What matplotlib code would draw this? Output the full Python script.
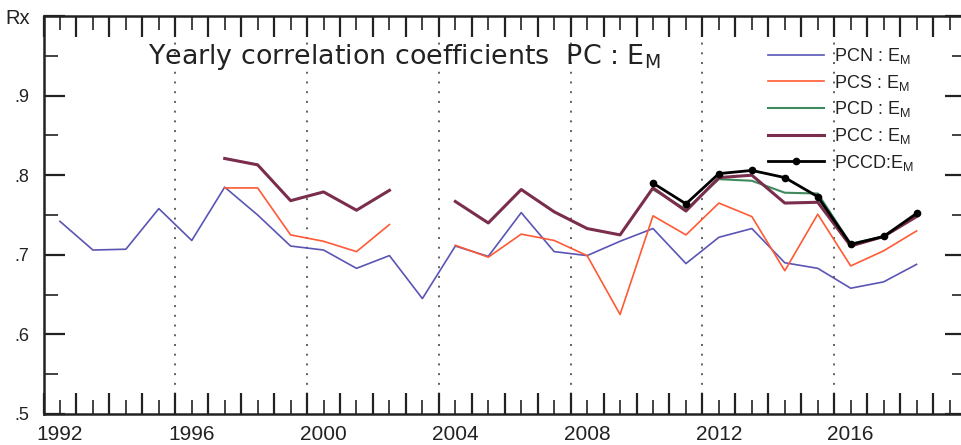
import numpy as np
import matplotlib
matplotlib.use('Agg')
import matplotlib.pyplot as plt
from matplotlib.ticker import MultipleLocator, FixedLocator, FuncFormatter

plt.rcParams['font.family'] = ['Liberation Sans', 'DejaVu Sans']
plt.rcParams['mathtext.fontset'] = 'custom'
plt.rcParams['mathtext.rm'] = 'Liberation Sans'

# ---- data ----
years_pcn = list(range(1992, 2019))
pcn = [0.742, 0.706, 0.707, 0.758, 0.718, 0.785, 0.750, 0.711, 0.706, 0.683,
       0.699, 0.645, 0.711, 0.698, 0.753, 0.704, 0.699, 0.717, 0.733, 0.689,
       0.722, 0.733, 0.690, 0.683, 0.658, 0.666, 0.688]

years_pcs = list(range(1997, 2019))
pcs = [0.784, 0.784, 0.725, 0.717, 0.704, 0.738, np.nan, 0.712, 0.697, 0.726,
       0.718, 0.699, 0.625, 0.749, 0.725, 0.765, 0.748, 0.680, 0.751, 0.686,
       0.705, 0.730]

years_pcc = list(range(1997, 2019))
pcc = [0.821, 0.813, 0.768, 0.779, 0.756, 0.781, np.nan, 0.767, 0.740, 0.782,
       0.754, 0.733, 0.725, 0.784, 0.755, 0.797, 0.800, 0.765, 0.766, 0.711,
       0.723, 0.748]

years_pcd = list(range(2010, 2019))
pcd = [0.782, 0.757, 0.795, 0.793, 0.778, 0.777, 0.714, 0.723, 0.749]

years_pccd = list(range(2010, 2019))
pccd = [0.790, 0.764, 0.802, 0.806, 0.797, 0.773, 0.713, 0.723, 0.752]

labels = [r'PCN : E$_\mathregular{M}$', r'PCS : E$_\mathregular{M}$',
          r'PCD : E$_\mathregular{M}$', r'PCC : E$_\mathregular{M}$',
          r'PCCD:E$_\mathregular{M}$']
title = r'Yearly correlation coefficients  PC : E$_\mathregular{M}$'
label_years = [1992, 1996, 2000, 2004, 2008, 2012, 2016]
grid_years = [1996, 2000, 2004, 2008, 2012, 2016]
ytick_vals = [0.5, 0.6, 0.7, 0.8, 0.9, 1.0]
ytick_labels = ['.5', '.6', '.7', '.8', '.9', 'Rx']

# ---- figure ----
W, H = 962, 445
fig = plt.figure(figsize=(W / 100, H / 100), dpi=100)
ax = fig.add_axes([43.5 / W, 31 / H, (966 - 43.5) / W, (414 - 16) / H])
ax.set_xlim(1992, 2020)
ax.set_ylim(0.5, 1.0)

ax.vlines(grid_years, 0.5, 1.0, colors='#606060', linestyles=(0, (1, 4)),
          linewidth=1.4, zorder=1)

def mid(ys):
    return np.array(ys) + 0.5

h1, = ax.plot(mid(years_pcn), pcn, color='#5a55b5', lw=1.2, zorder=3)
h2, = ax.plot(mid(years_pcs), pcs, color='#ff5a35', lw=1.2, zorder=3)
h3, = ax.plot(mid(years_pcd), pcd, color='#3f8a5c', lw=1.5, zorder=3)
h4, = ax.plot(mid(years_pcc), pcc, color='#7a2d4c', lw=2.2, zorder=4)
h5, = ax.plot(mid(years_pccd), pccd, color='black', lw=2.0, marker='o',
              markersize=4.5, zorder=5)

# ticks
ax.xaxis.set_major_locator(MultipleLocator(1))
ax.xaxis.set_major_formatter(FuncFormatter(lambda v, p: ''))
ax.xaxis.set_minor_locator(FixedLocator(np.arange(1992.5, 2020, 1.0)))
ax.xaxis.set_minor_formatter(FuncFormatter(
    lambda v, p: str(int(v)) if int(v) in label_years else ''))
ax.set_yticks(ytick_vals)
ax.set_yticklabels(ytick_labels)
ax.yaxis.set_minor_locator(FixedLocator(np.arange(0.55, 1.0, 0.1)))

ax.tick_params(which='major', direction='in', length=15, width=1.6,
               top=True, right=True, colors='#222222')
ax.tick_params(which='minor', direction='in', length=10, width=1.2,
               top=True, right=True, colors='#222222')
ax.tick_params(axis='x', which='both', labelsize=15, pad=8)
ax.tick_params(axis='y', which='both', labelsize=13, pad=10)
ax.get_yticklabels()[-1].set_fontsize(14.5)
for s in ax.spines.values():
    s.set_linewidth(1.8)
    s.set_color('#222222')

fig.text(148 / W, 1 - 64 / H, title, fontsize=19.4, color='#222222',
         family='DejaVu Sans', va='baseline', ha='left')

ax.legend([h1, h2, h3, h4, h5], labels, loc='upper left',
          bbox_to_anchor=(768 / W, 1 - 46 / H), bbox_transform=fig.transFigure,
          frameon=False, fontsize=13, handlelength=3.1, handletextpad=0.55,
          labelspacing=0.37, borderpad=0, borderaxespad=0, labelcolor='#222222')

fig.savefig('out.png', dpi=100)
